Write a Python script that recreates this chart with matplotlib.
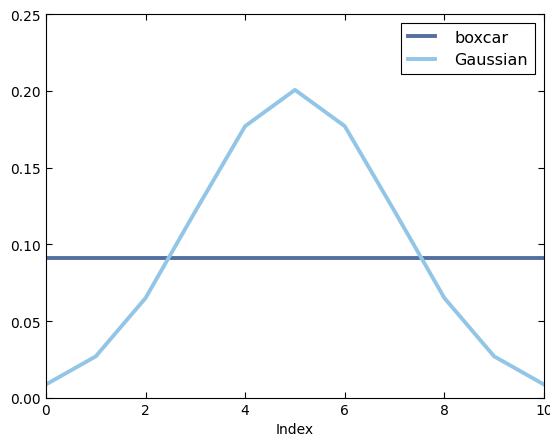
import matplotlib
matplotlib.use("Agg")
import matplotlib.pyplot as plt

index = [0, 1, 2, 3, 4, 5, 6, 7, 8, 9, 10]
boxcar = [0.0909] * 11
gaussian = [0.0088, 0.0271, 0.0651, 0.1216, 0.1770, 0.2006, 0.1770, 0.1216, 0.0651, 0.0271, 0.0088]

fig = plt.figure(figsize=(5.5, 4.35), dpi=100)
ax = fig.add_axes([0.0836, 0.0828, 0.9054, 0.8827])
ax.plot(index, boxcar, color='#5470a0', lw=2.8, label='boxcar')
ax.plot(index, gaussian, color='#93c6e6', lw=2.8, label='Gaussian')
ax.set_xlim(0, 10)
ax.set_ylim(0, 0.25)
ax.set_xticks([0, 2, 4, 6, 8, 10])
ax.set_yticks([0.0, 0.05, 0.10, 0.15, 0.20, 0.25])
ax.set_yticklabels(['0.00', '0.05', '0.10', '0.15', '0.20', '0.25'])
ax.tick_params(direction='in', top=True, right=True, labelsize=10, length=4)
ax.set_xlabel('Index', fontsize=10)
leg = ax.legend(loc='upper right', fontsize=11.5, fancybox=False, framealpha=1,
                edgecolor='black', handlelength=1.7, handletextpad=1.2,
                borderpad=0.45, labelspacing=0.45, borderaxespad=0.55)
leg.get_frame().set_linewidth(0.8)
fig.savefig('out.png', dpi=100)
